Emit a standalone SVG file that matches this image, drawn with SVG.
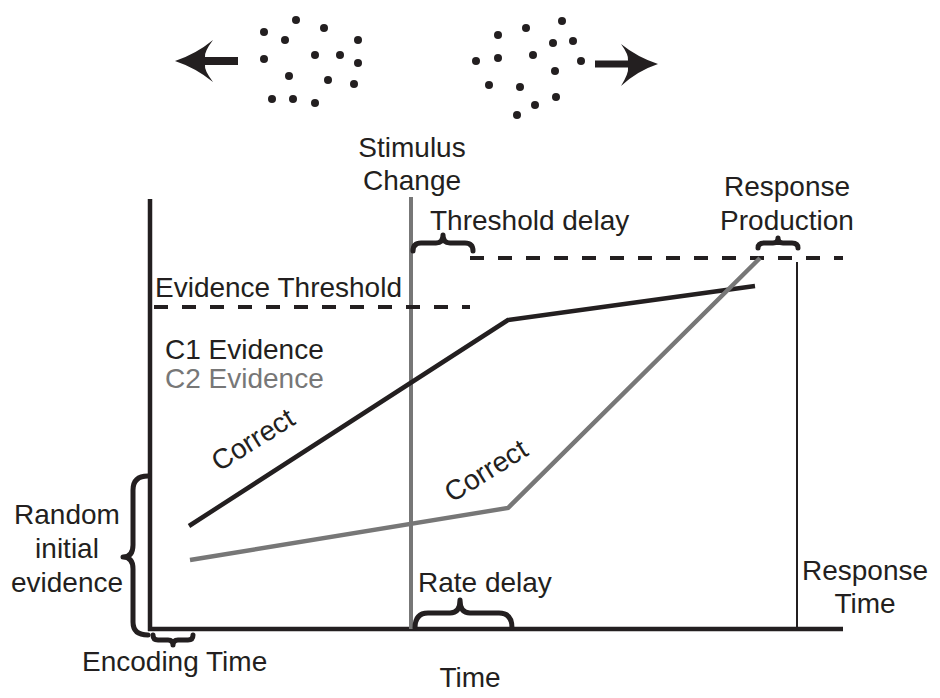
<svg xmlns="http://www.w3.org/2000/svg" width="940" height="698" viewBox="0 0 940 698">
<style>
text{font-family:"Liberation Sans",Arial,sans-serif;font-size:28px;fill:#231f20}
.g{fill:#777}
.mid{text-anchor:middle}
.ax{stroke:#231f20;stroke-width:4.5;fill:none}
.dash{stroke:#231f20;stroke-width:4;stroke-dasharray:14 14;fill:none}
.br{stroke:#231f20;stroke-width:5;fill:none;stroke-linejoin:round;stroke-linecap:round}
.dot{fill:#231f20}
</style>
<rect width="940" height="698" fill="#fff"/>
<g id="stimulus-left">
<path d="M175,61 Q196,54 213,40 Q204,52 205,57 L238,57 L238,65 L205,65 Q204,70 213,82 Q196,68 175,61 Z" fill="#231f20"/>
<g class="dot">
<circle cx="264" cy="32" r="4"/><circle cx="296" cy="20" r="4"/><circle cx="324" cy="28" r="4"/><circle cx="285" cy="40" r="4"/><circle cx="358" cy="40" r="4"/><circle cx="264" cy="59" r="4"/><circle cx="315" cy="55" r="4"/><circle cx="340" cy="55" r="4"/><circle cx="358" cy="63" r="4"/><circle cx="289" cy="76" r="4"/><circle cx="328" cy="80" r="4"/><circle cx="354" cy="84" r="4"/><circle cx="272" cy="99" r="4"/><circle cx="293" cy="99" r="4"/><circle cx="315" cy="103" r="4"/>
</g>
</g>
<g id="stimulus-right">
<path d="M658,64 Q637,57 621,44 Q629,55 628,60.5 L595,60.5 L595,67.5 L628,67.5 Q629,73 621,86 Q637,71 658,64 Z" fill="#231f20"/>
<g class="dot">
<circle cx="562" cy="21" r="4"/><circle cx="526" cy="28" r="4"/><circle cx="498" cy="35" r="4"/><circle cx="573" cy="41" r="4"/><circle cx="553" cy="43" r="4"/><circle cx="533" cy="55" r="4"/><circle cx="498" cy="58" r="4"/><circle cx="476" cy="61" r="4"/><circle cx="581" cy="61" r="4"/><circle cx="555" cy="71" r="4"/><circle cx="489" cy="85" r="4"/><circle cx="520" cy="87" r="4"/><circle cx="556" cy="97" r="4"/><circle cx="535" cy="105" r="4"/><circle cx="517" cy="115" r="4"/>
</g>
</g>
<g id="axes">
<line class="ax" x1="150" y1="199" x2="150" y2="631"/>
<line class="ax" x1="148" y1="629" x2="843" y2="629"/>
<text class="mid" x="470" y="687">Time</text>
</g>
<g id="connectors">
<line x1="411" y1="197" x2="411" y2="629" stroke="#777" stroke-width="4"/>
<line x1="797" y1="262" x2="797" y2="629" stroke="#231f20" stroke-width="2"/>
<line class="dash" x1="154" y1="307" x2="470" y2="307"/>
<line class="dash" x1="470" y1="258" x2="843" y2="258"/>
<polyline points="189,526 508,320 755,286" fill="none" stroke="#231f20" stroke-width="4.5"/>
<polyline points="190,560 508,508 760,258" fill="none" stroke="#777" stroke-width="4.5"/>
</g>
<g id="stimulus-change">
<text class="mid" x="412" y="157">Stimulus</text>
<text class="mid" x="412" y="190">Change</text>
</g>
<g id="evidence-threshold">
<text x="155" y="297">Evidence Threshold</text>
</g>
<g id="threshold-delay">
<path class="br" d="M413,251 Q413,243 421,243 L436,243 Q443,243 443,235 Q443,243 450,243 L465,243 Q473,243 473,251"/>
<text x="430" y="230">Threshold delay</text>
</g>
<g id="response-production">
<path class="br" d="M758,248 Q758,243 764,243 L773,243 Q778,243 778,238 Q778,243 783,243 L792,243 Q798,243 798,248"/>
<text class="mid" x="787" y="196">Response</text>
<text class="mid" x="787" y="230">Production</text>
</g>
<g id="legend">
<text x="165" y="359">C1 Evidence</text>
<text class="g" x="165" y="388">C2 Evidence</text>
</g>
<g id="correct-c1">
<text transform="translate(219,472) rotate(-32)">Correct</text>
</g>
<g id="correct-c2">
<text transform="translate(452,503) rotate(-32)">Correct</text>
</g>
<g id="random-initial">
<path class="br" d="M148,476 Q133,476 133,490 L133,545 Q133,557 123,557 Q133,557 133,569 L133,622 Q133,635 148,635"/>
<text class="mid" x="67" y="524">Random</text>
<text class="mid" x="67" y="558">initial</text>
<text class="mid" x="67" y="592">evidence</text>
</g>
<g id="encoding-time">
<path class="br" d="M153,635 Q153,640 158,640 L168,640 Q173,640 173,645 Q173,640 178,640 L188,640 Q193,640 193,635"/>
<text x="82" y="671">Encoding Time</text>
</g>
<g id="rate-delay">
<path class="br" d="M415,628 Q415,613 428,613 L450,613 Q460,613 460,600 Q460,613 470,613 L499,613 Q512,613 512,628"/>
<text x="418" y="592">Rate delay</text>
</g>
<g id="response-time">
<text class="mid" x="865" y="580">Response</text>
<text class="mid" x="865" y="613">Time</text>
</g>
</svg>
